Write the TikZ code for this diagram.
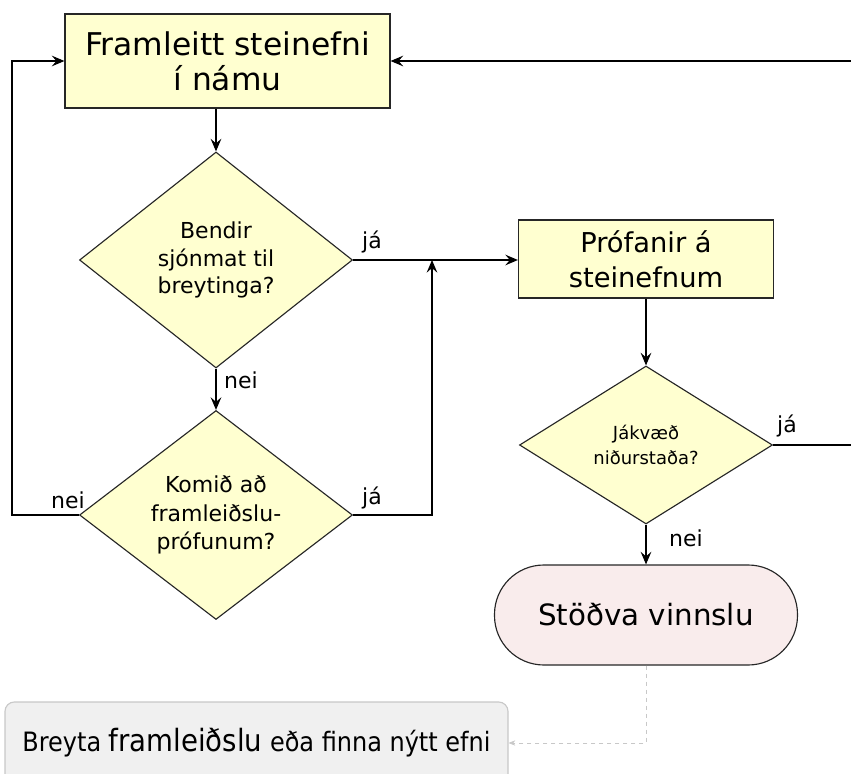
\documentclass[tikz,border=0pt]{standalone}
\usepackage{fontspec}
\setmainfont{DejaVu Sans}
\newfontfamily\condfont{DejaVu Sans Condensed}
\usetikzlibrary{arrows.meta,shapes.geometric}

\definecolor{gulur}{RGB}{255,255,208}
\definecolor{bleikur}{RGB}{249,236,236}
\definecolor{grar}{RGB}{240,240,240}
\definecolor{grarlina}{RGB}{200,200,200}

\tikzset{every picture/.style={line width=0.85pt}}
\tikzset{
  ferill/.style={draw=black!85, fill=gulur, rectangle, align=center, inner sep=0pt},
  spurning/.style={draw=black!85, fill=gulur, diamond, align=center, inner sep=0pt},
  or/.style={-{Stealth[length=9.5pt,width=8pt,inset=3.5pt]}},
  merki/.style={inner sep=0.75pt, font=\fontsize{16.5}{18}\selectfont}
}

\begin{document}
\begin{tikzpicture}[x=0.75pt,y=0.75pt,yscale=-1,xscale=1]
		\useasboundingbox (0,0) rectangle (851,774);
		
		%Shape: Rectangle
		\node [ferill, minimum width=243.75pt, minimum height=70.5pt, font=\fontsize{23.5}{26.5}\selectfont] (namur) at (227.5,61) {Framleitt steinefni\\í námu};
		%Shape: Diamond
		\node [spurning, minimum width=204.75pt, minimum height=162pt, font=\fontsize{16.5}{20.5}\selectfont] (sjon) at (216,260) {Bendir\\sjónmat til\\breytinga?};
		\node [spurning, minimum width=204.75pt, minimum height=155.25pt, font=\fontsize{16.5}{21.5}\selectfont] (komid) at (216,515) {Komið að\\framleiðslu-\\prófunum?};
		%Shape: Rectangle
		\node [ferill, minimum width=191.25pt, minimum height=58.5pt, font=\fontsize{20.5}{26}\selectfont] (prof) at (646,259) {Prófanir á\\steinefnum};
		\node [spurning, minimum width=189.75pt, minimum height=118.5pt, font=\fontsize{13.5}{19}\selectfont] (jakv) at (646,445) {Jákvæð\\niðurstaða?};
		%Shape: Rounded Rectangle
		\node [draw=black!85, fill=bleikur, rounded corners=37pt, minimum width=227.25pt, minimum height=75pt, inner sep=0pt, font=\fontsize{22}{24}\selectfont] (stodva) at (646,615) {Stöðva vinnslu};
		\node [draw=grarlina, fill=grar, rounded corners=7pt, minimum width=377.25pt, minimum height=61.5pt, inner sep=0pt, font=\fontsize{20}{24}\selectfont] (breyta) at (256.5,743) {\condfont Breyta {\fontsize{23}{24}\selectfont framleiðslu} eða finna nýtt efni};
		
		\coordinate (vinstri) at (12,515);
		\coordinate (mot) at (432,260);
		\coordinate (haegri) at (860,445);
		
		\draw [or] (sjon.north |- namur.south) -- (sjon.north) ;
		\draw [or] (sjon.south) -- (komid.north) ;
		\draw [or] (sjon.east) -- (prof.west |- sjon.east) ;
		\draw [or] (komid.east) -| (mot) ;
		\draw [or] (komid.west) -- (vinstri) |- (namur.west) ;
		\draw [or] (prof.south) -- (jakv.north) ;
		\draw [or] (jakv.east) -- (haegri) |- (namur.east) ;
		\draw [or] (jakv.south) -- (stodva.north) ;
		\draw [draw=grarlina, dashed, line width=0.5pt, -{Stealth[length=5pt,width=4pt,inset=1.5pt]}] (stodva.south) |- (breyta.east) ;
		
		\node [merki] (ja1) at (372,242) {já};
		\node [merki] (nei1) at (241,380) {nei};
		\node [merki] (nei2) at (68,500) {nei};
		\node [merki] (ja2) at (372,498) {já};
		\node [merki] (ja3) at (787,426) {já};
		\node [merki] (nei3) at (686,538) {nei};
		
\end{tikzpicture}
\end{document}
